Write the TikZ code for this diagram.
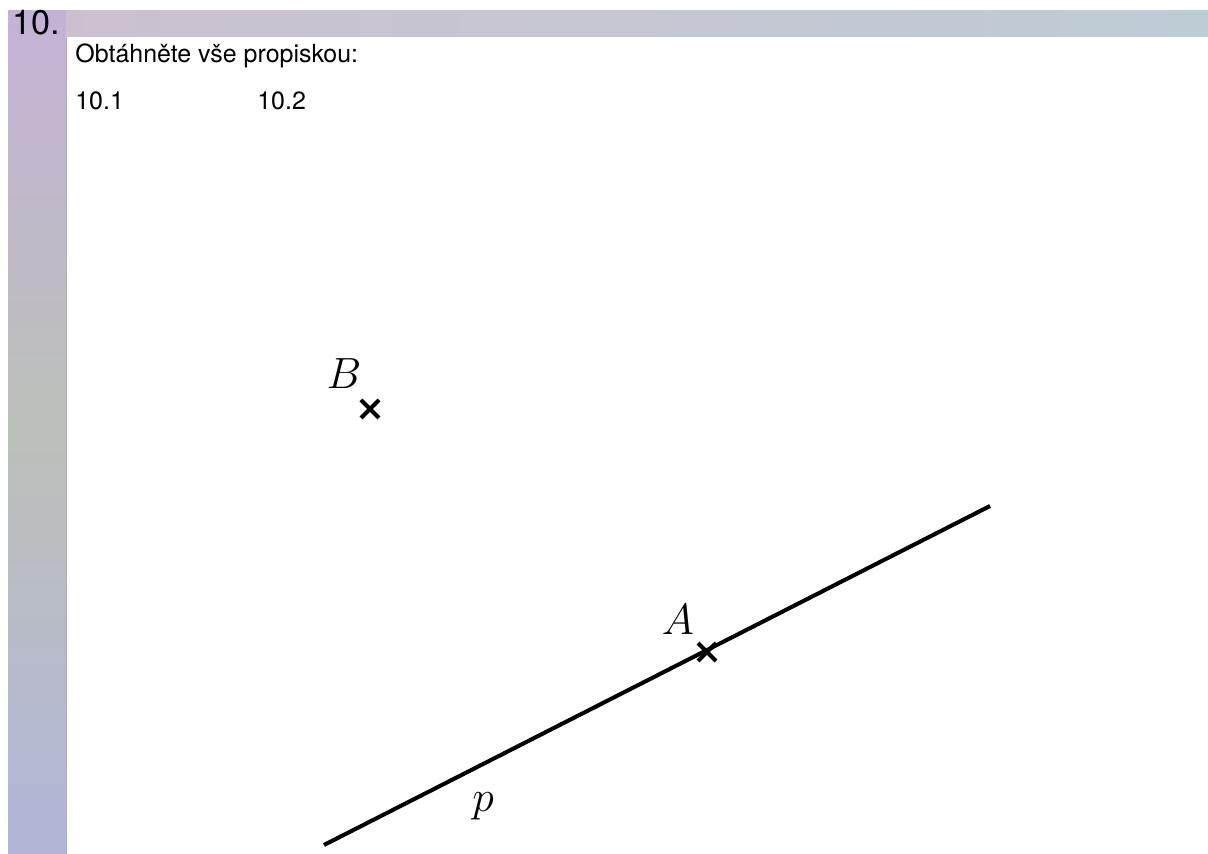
\documentclass[tikz,border=0pt]{standalone}
\usepackage{fontspec}
\setmainfont{TeX Gyre Heros}
\usepackage{xcolor}

\definecolor{okrajL}{RGB}{196,178,214}
\definecolor{okrajM}{RGB}{188,192,186}
\definecolor{okrajD}{RGB}{178,182,216}
\definecolor{okrajT}{RGB}{204,192,206}
\definecolor{okrajR}{RGB}{190,204,214}

\tikzset{
    krizek/.style={line width=2.4pt, black},
    primka/.style={line width=2.3pt, black},
    popis/.style={font=\fontsize{26}{30}\selectfont},
    text1/.style={anchor=base west, font=\fontsize{14.2}{17}\selectfont, inner sep=0pt},
}

\begin{document}
\begin{tikzpicture}[x=0.02cm, y=-0.02cm]
    \useasboundingbox (0,0) rectangle (1208,854);
    \fill[white] (0,0) rectangle (1208,854);

    % scanned page border
    \shade[left color=okrajT, right color=okrajR] (8,11) rectangle (1208,37);
    \shade[top color=okrajL, bottom color=okrajM] (8,11) rectangle (66,430);
    \shade[top color=okrajM, bottom color=okrajD] (8,430) rectangle (66,854);
    \draw[gray!60, line width=0.4pt] (66,37) -- (66,854);

    % heading
    \node[anchor=base west, inner sep=0pt, font=\fontsize{19.5}{22}\selectfont] (cislo) at (12,35) {10.};
    \node[text1] (zadani) at (75,63) {Obtáhněte vše propiskou:};
    \node[text1] (ulohaA) at (75,110) {10.1};
    \node[text1] (ulohaB) at (257,110) {10.2};

    % points and line p
    \coordinate (A) at (707,652);
    \coordinate (B) at (370,409);
    \coordinate (p1) at (324,845);
    \coordinate (p2) at (990,506);

    \draw[primka] (p1) -- (p2);

    \draw[krizek] (B) ++(-9,-9) -- ++(18,18) (B) ++(-9,9) -- ++(18,-18);
    \draw[krizek] (A) ++(-9,-9) -- ++(18,18) (A) ++(-9,9) -- ++(18,-18);

    \node[popis] (labB) at (344,374) {$B$};
    \node[popis] (labA) at (678,620) {$A$};
    \node[popis] (labp) at (483,806) {$p$};
\end{tikzpicture}
\end{document}
